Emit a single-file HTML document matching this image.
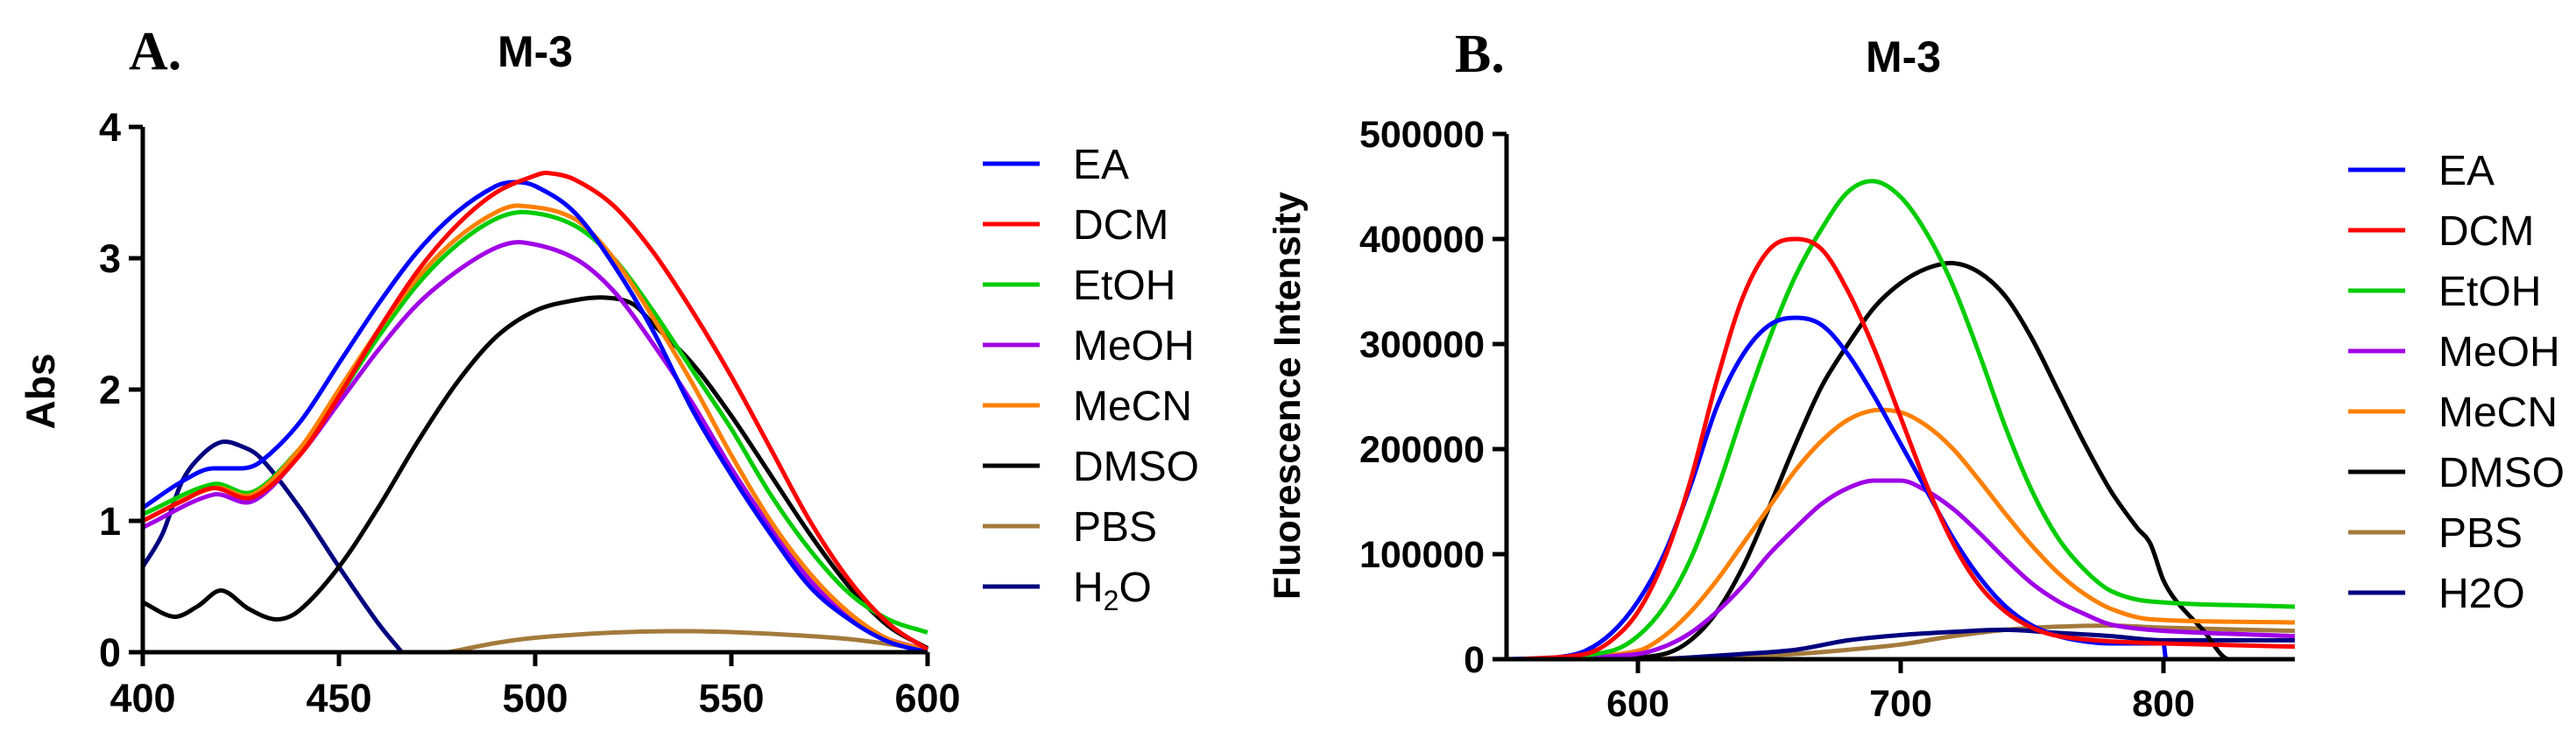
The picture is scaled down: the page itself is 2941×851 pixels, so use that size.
<!DOCTYPE html>
<html><head><meta charset="utf-8">
<style>
html,body{margin:0;padding:0;background:#fff;}
svg{display:block;font-family:"Liberation Sans",Arial,sans-serif;}
</style></head>
<body>
<svg id="fig" width="2941" height="851" viewBox="0 0 2941 851" xmlns="http://www.w3.org/2000/svg">
<g id="panelA"></g>
<g id="panelB"></g>
</svg>
<script>
// ---------- Panel A data (absorbance) ----------
const seriesNames = ["EA","DCM","EtOH","MeOH","MeCN","DMSO","PBS","H2O"];
const absTicksX = [400,450,500,550,600];
const absTicksY = [0,1,2,3,4];
const absEA_x = [400,410,418,425,430,440,450,460,470,480,490,495,500,510,520,530,540,550,560,570,580,590,600];
const absEA_y = [1.1,1.3,1.4,1.4,1.45,1.75,2.2,2.65,3.05,3.35,3.55,3.58,3.55,3.35,2.95,2.45,1.85,1.35,0.9,0.5,0.25,0.08,0.0];
const absDCM_x = [400,410,418,428,440,450,460,470,480,490,500,503,510,520,530,540,550,560,570,580,590,600];
const absDCM_y = [1.0,1.15,1.25,1.18,1.5,1.95,2.45,2.9,3.25,3.5,3.63,3.65,3.6,3.4,3.05,2.6,2.1,1.55,1.0,0.55,0.22,0.02];
const absEtOH_x = [400,418,428,440,450,460,470,480,490,498,510,520,530,540,550,560,570,580,590,600];
const absEtOH_y = [1.05,1.28,1.22,1.55,1.95,2.4,2.8,3.1,3.3,3.35,3.25,3.0,2.6,2.15,1.7,1.2,0.78,0.45,0.25,0.15];
const absMeOH_x = [400,418,428,440,450,460,470,480,490,497,510,520,530,540,550,560,570,580,590,600];
const absMeOH_y = [0.95,1.2,1.15,1.5,1.9,2.3,2.65,2.9,3.08,3.12,3.0,2.75,2.35,1.9,1.4,0.95,0.55,0.27,0.1,0.02];
const absMeCN_x = [400,418,428,440,450,460,470,480,490,496,510,520,530,540,550,560,570,580,590,600];
const absMeCN_y = [1.0,1.25,1.2,1.55,2.0,2.45,2.85,3.15,3.35,3.4,3.3,3.0,2.55,2.05,1.5,1.0,0.6,0.3,0.1,0.02];
const absDMSO_x = [400,408,414,420,427,434,440,450,460,470,480,490,500,510,518,525,530,540,550,560,570,580,590,600];
const absDMSO_y = [0.38,0.27,0.35,0.47,0.33,0.25,0.32,0.65,1.1,1.6,2.05,2.4,2.6,2.68,2.7,2.65,2.5,2.2,1.8,1.35,0.9,0.5,0.2,0.03];
const absPBS_x = [478,490,500,520,540,560,580,600];
const absPBS_y = [0,0.07,0.11,0.15,0.16,0.14,0.1,0.02];
const absH2O_x = [400,405,410,415,420,425,430,440,450,460,466];
const absH2O_y = [0.65,0.9,1.3,1.5,1.6,1.57,1.48,1.1,0.65,0.22,0];

// ---------- Panel B data (fluorescence) ----------
const flTicksX = [600,700,800];
const flTicksY = [0,100000,200000,300000,400000,500000];
const flEA_x = [550,570,580,590,600,610,620,630,640,650,660,670,680,690,700,710,720,730,740,750,760,770,780,800,801,850];
const flEA_y = [0,2000,8000,25000,55000,100000,165000,240000,290000,318000,325000,318000,290000,250000,205000,160000,115000,78000,50000,32000,22000,17000,15000,15000,0,0];
const flDCM_x = [555,580,590,600,610,620,630,640,650,660,670,680,690,700,710,720,730,740,750,760,780,800,850];
const flDCM_y = [0,5000,18000,45000,95000,170000,265000,345000,390000,400000,390000,350000,295000,230000,165000,110000,70000,45000,30000,22000,17000,15000,12000];
const flEtOH_x = [565,590,600,610,620,630,640,650,660,670,680,690,700,710,720,730,740,750,760,770,780,795,850];
const flEtOH_y = [0,8000,22000,50000,95000,160000,235000,305000,365000,410000,445000,455000,440000,405000,355000,290000,220000,160000,115000,85000,65000,55000,50000];
const flMeOH_x = [570,600,610,620,630,640,650,660,670,680,690,700,710,720,730,740,750,760,770,780,800,850];
const flMeOH_y = [0,5000,12000,25000,45000,70000,100000,125000,148000,163000,170000,170000,160000,143000,120000,95000,72000,55000,43000,33000,27000,22000];
const flMeCN_x = [570,600,610,620,630,640,650,660,670,680,690,700,710,720,730,740,750,760,770,780,795,850];
const flMeCN_y = [0,8000,22000,45000,75000,110000,145000,180000,208000,228000,237000,235000,222000,200000,170000,138000,108000,82000,62000,48000,38000,35000];
const flDMSO_x = [590,610,620,630,640,650,660,670,680,690,700,710,720,730,740,750,760,770,780,790,795,800,805,815,825,850];
const flDMSO_y = [0,5000,18000,45000,88000,145000,205000,260000,300000,335000,358000,372000,377000,368000,345000,305000,255000,205000,160000,125000,110000,75000,55000,28000,0,0];
const flPBS_x = [600,640,660,680,700,720,740,760,780,800,850];
const flPBS_y = [0,3000,5000,9000,14000,22000,28000,31000,32000,30000,27000];
const flH2O_x = [610,640,660,680,700,720,740,760,780,800,850];
const flH2O_y = [0,5000,9000,18000,23000,26000,28000,25000,22000,18000,18000];

const colors = ["#0000ff","#ff0000","#00cc00","#a000e6","#ff8000","#000000","#a47a3c","#00007f"];
const NS = "http://www.w3.org/2000/svg";

function mk(parent, tag, attrs){
  const e = document.createElementNS(NS, tag);
  for (const k in attrs) e.setAttribute(k, attrs[k]);
  parent.appendChild(e);
  return e;
}
// cubic Hermite with centered finite-difference slopes (smooth peaks, limited overshoot)
function smoothPath(pts){
  const n = pts.length;
  const m = [];
  for (let i=0;i<n;i++){
    const a = pts[Math.max(0,i-1)], b = pts[Math.min(n-1,i+1)];
    let s = (b[1]-a[1])/(b[0]-a[0]);
    // avoid overshoot next to sharp steps: limit to 3x the smaller adjacent secant magnitude
    const s1 = i>0 ? (pts[i][1]-pts[i-1][1])/(pts[i][0]-pts[i-1][0]) : s;
    const s2 = i<n-1 ? (pts[i+1][1]-pts[i][1])/(pts[i+1][0]-pts[i][0]) : s;
    if (s1*s2 > 0){
      const lim = 3*Math.min(Math.abs(s1),Math.abs(s2));
      if (Math.abs(s) > lim) s = Math.sign(s)*lim;
    } else if (s1===0 || s2===0) s = 0;
    m.push(s);
  }
  let d = "M" + pts[0][0].toFixed(1) + "," + pts[0][1].toFixed(1);
  for (let i=0;i<n-1;i++){
    const h = (pts[i+1][0]-pts[i][0])/3;
    d += " C"+(pts[i][0]+h).toFixed(1)+","+(pts[i][1]+m[i]*h).toFixed(1)+" "+(pts[i+1][0]-h).toFixed(1)+","+(pts[i+1][1]-m[i+1]*h).toFixed(1)+" "+pts[i+1][0].toFixed(1)+","+pts[i+1][1].toFixed(1);
  }
  return d;
}

// ----- Panel A -----
(function(){
  const g = document.getElementById('panelA');
  const x0=163, x1=1059, y0=745, y1=145;
  const sx = v => x0 + (v-400)/(600-400)*(x1-x0);
  const sy = v => y0 - v/4*(y0-y1);
  let t;
  t = mk(g,'text',{x:147,y:79,'font-size':62,'font-weight':'bold','font-family':'"Liberation Serif",serif'}); t.textContent='A.';
   
  t = mk(g,'text',{x:611,y:76,'font-size':50,'font-weight':'bold','text-anchor':'middle'}); t.textContent='M-3';
   
  t = mk(g,'text',{x:0,y:0,'font-size':46,'font-weight':'bold','text-anchor':'middle',transform:'translate(62,447) rotate(-90)'}); t.textContent='Abs';
   
  const series = [[absEA_x,absEA_y],[absDCM_x,absDCM_y],[absEtOH_x,absEtOH_y],[absMeOH_x,absMeOH_y],[absMeCN_x,absMeCN_y],[absDMSO_x,absDMSO_y],[absPBS_x,absPBS_y],[absH2O_x,absH2O_y]];
  const order=[7,6,5,2,3,4,0,1];
  order.forEach(i=>{
    const pts = series[i][0].map((xv,j)=>[sx(xv), sy(series[i][1][j])]);
    const p = mk(g,'path',{d:smoothPath(pts),fill:'none',stroke:colors[i],'stroke-width':5,'stroke-linejoin':'round'});
    
    
  });
  const ax = mk(g,'path',{d:`M${x0},${y1} V${y0} H${x1}`,fill:'none',stroke:'#000','stroke-width':5});
   
  absTicksY.forEach(v=>{
    mk(g,'line',{x1:x0-16,x2:x0,y1:sy(v),y2:sy(v),stroke:'#000','stroke-width':5});
    const tt = mk(g,'text',{x:138,y:sy(v)+16,'font-size':45,'font-weight':'bold','text-anchor':'end'}); tt.textContent=v;
     
  });
  absTicksX.forEach(v=>{
    mk(g,'line',{x1:sx(v),x2:sx(v),y1:y0,y2:y0+16,stroke:'#000','stroke-width':5});
    const tt = mk(g,'text',{x:sx(v),y:813,'font-size':45,'font-weight':'bold','text-anchor':'middle'}); tt.textContent=v;
     
  });
  seriesNames.forEach((n,i)=>{
    const y = 187 + i*69;
    const lg = mk(g,'g',{});
     
    mk(lg,'line',{x1:1122,x2:1187,y1:y,y2:y,stroke:colors[i],'stroke-width':5});
    const tt = mk(lg,'text',{x:1225,y:y+17,'font-size':48});
    if (n==='H2O'){ tt.innerHTML='H<tspan font-size="32" dy="10">2</tspan><tspan dy="-10">O</tspan>'; }
    else tt.textContent=n;
  });
})();

// ----- Panel B -----
(function(){
  const g = document.getElementById('panelB');
  const x0=1720, x1=2620, y0=753, y1=153;
  const sx = v => x0 + (v-550)/(850-550)*(x1-x0);
  const sy = v => y0 - v/500000*(y0-y1);
  let t;
  t = mk(g,'text',{x:1661,y:82,'font-size':62,'font-weight':'bold','font-family':'"Liberation Serif",serif'}); t.textContent='B.';
   
  t = mk(g,'text',{x:2173,y:82,'font-size':50,'font-weight':'bold','text-anchor':'middle'}); t.textContent='M-3';
   
  t = mk(g,'text',{x:0,y:0,'font-size':43,'font-weight':'bold','text-anchor':'middle',transform:'translate(1484,452) rotate(-90)'}); t.textContent='Fluorescence Intensity';
   
  const series = [[flEA_x,flEA_y],[flDCM_x,flDCM_y],[flEtOH_x,flEtOH_y],[flMeOH_x,flMeOH_y],[flMeCN_x,flMeCN_y],[flDMSO_x,flDMSO_y],[flPBS_x,flPBS_y],[flH2O_x,flH2O_y]];
  const order=[6,7,5,4,3,2,0,1];
  order.forEach(i=>{
    const pts = series[i][0].map((xv,j)=>[sx(xv), sy(series[i][1][j])]);
    const p = mk(g,'path',{d:smoothPath(pts),fill:'none',stroke:colors[i],'stroke-width':5,'stroke-linejoin':'round'});
    
    
  });
  const ax = mk(g,'path',{d:`M${x0},${y1} V${y0} H${x1}`,fill:'none',stroke:'#000','stroke-width':5});
   
  flTicksY.forEach(v=>{
    mk(g,'line',{x1:x0-16,x2:x0,y1:sy(v),y2:sy(v),stroke:'#000','stroke-width':5});
    const tt = mk(g,'text',{x:1695,y:sy(v)+15,'font-size':43,'font-weight':'bold','text-anchor':'end'});
    if (v!==0) tt.setAttribute('textLength',143);
    tt.textContent=v;
     
  });
  flTicksX.forEach(v=>{
    mk(g,'line',{x1:sx(v),x2:sx(v),y1:y0,y2:y0+16,stroke:'#000','stroke-width':5});
    const tt = mk(g,'text',{x:sx(v),y:818,'font-size':43,'font-weight':'bold','text-anchor':'middle'}); tt.textContent=v;
     
  });
  seriesNames.forEach((n,i)=>{
    const y = 194 + i*69;
    const lg = mk(g,'g',{});
     
    mk(lg,'line',{x1:2681,x2:2746,y1:y,y2:y,stroke:colors[i],'stroke-width':5});
    const tt = mk(lg,'text',{x:2784,y:y+17,'font-size':48}); tt.textContent=n;
  });
})();
</script>
</body></html>
